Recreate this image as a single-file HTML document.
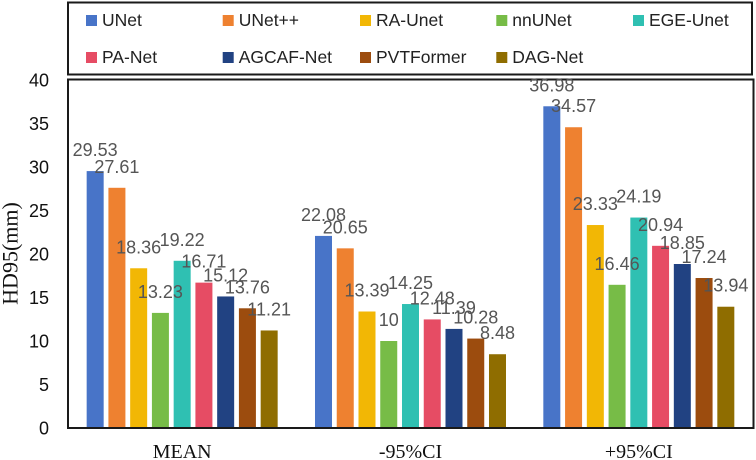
<!DOCTYPE html>
<html>
<head>
<meta charset="utf-8">
<style>
html,body{margin:0;padding:0;background:#fff;width:756px;height:460px;overflow:hidden}
svg{display:block}
</style>
</head>
<body>
<svg id="chart" width="756" height="460" viewBox="0 0 756 460" xmlns="http://www.w3.org/2000/svg">
<rect x="0" y="0" width="756" height="460" fill="#fff"/>
<rect x="68" y="2.5" width="684" height="72" fill="#fff" stroke="#1a1a1a" stroke-width="2"/>
<rect x="68" y="79.5" width="685.5" height="348.5" fill="#fff" stroke="#1a1a1a" stroke-width="2"/>
<g id="legend"></g>
<g id="y-axis"></g>
<g id="bars"></g>
<g id="value-labels"></g>
<g id="x-axis"></g>
<text transform="translate(17.5,253.5) rotate(-90)" text-anchor="middle" font-family="'Liberation Serif',serif" font-size="22" fill="#111">HD95(mm)</text>
</svg>
<script>
const categories = ['MEAN', '-95%CI', '+95%CI'];
const seriesNames = ['UNet', 'UNet++', 'RA-Unet', 'nnUNet', 'EGE-Unet', 'PA-Net', 'AGCAF-Net', 'PVTFormer', 'DAG-Net'];
const seriesColors = ['#4874C8', '#EE8130', '#F2B705', '#77BC47', '#2FC0B2', '#E64C64', '#214282', '#9C4C0E', '#8F6D00'];
const UNet = [29.53, 22.08, 36.98];
const UNetPP = [27.61, 20.65, 34.57];
const RAUnet = [18.36, 13.39, 23.33];
const nnUNet = [13.23, 10, 16.46];
const EGEUnet = [19.22, 14.25, 24.19];
const PANet = [16.71, 12.48, 20.94];
const AGCAFNet = [15.12, 11.39, 18.85];
const PVTFormer = [13.76, 10.28, 17.24];
const DAGNet = [11.21, 8.48, 13.94];
const seriesValues = [UNet, UNetPP, RAUnet, nnUNet, EGEUnet, PANet, AGCAFNet, PVTFormer, DAGNet];
const yTicks = [0, 5, 10, 15, 20, 25, 30, 35, 40];

const NS = 'http://www.w3.org/2000/svg';
function yScale(v) { return 428 - v * 8.7; }
function groupCenter(i) { return 68 + 228.33 * (i + 0.5); }
function barCenter(i, j) { return groupCenter(i) + (j - (seriesNames.length - 1) / 2) * 21.75; }
function make(tag, attrs, text) {
  const el = document.createElementNS(NS, tag);
  for (const k in attrs) el.setAttribute(k, attrs[k]);
  if (text !== undefined) el.textContent = text;
  return el;
}

const legendG = document.getElementById('legend');
const legendCols = [86, 222.7, 360, 496.3, 633];
const legendRows = [26, 63];
seriesNames.forEach(function (name, j) {
  const col = legendCols[j % 5];
  const base = legendRows[Math.floor(j / 5)];
  const sw = make('rect', { x: col, y: base - 11, width: 11, height: 11, fill: seriesColors[j] });
  
  
  legendG.appendChild(sw);
  const t = make('text', { x: col + 16, y: base, 'font-family': "'Liberation Sans',sans-serif", 'font-size': 17.5, fill: '#222' }, name);
  
  
  legendG.appendChild(t);
});

const yG = document.getElementById('y-axis');
yTicks.forEach(function (v) {
  const t = make('text', { x: 49, y: yScale(v) + 6.5, 'text-anchor': 'end', 'font-family': "'Liberation Sans',sans-serif", 'font-size': 18, fill: '#111' }, String(v));
  
  
  yG.appendChild(t);
});

const xG = document.getElementById('x-axis');
categories.forEach(function (c, i) {
  const t = make('text', { x: groupCenter(i), y: 458, 'text-anchor': 'middle', 'font-family': "'Liberation Serif',serif", 'font-size': 20, fill: '#111' }, c);
  
  
  xG.appendChild(t);
});

const barsG = document.getElementById('bars');
const labelsG = document.getElementById('value-labels');
seriesValues.forEach(function (vals, j) {
  vals.forEach(function (v, i) {
    const top = yScale(v);
    const r = make('rect', { x: barCenter(i, j) - 8.5, y: top, width: 17, height: yScale(0) - top - 1, fill: seriesColors[j] });
    
    
    barsG.appendChild(r);
    const t = make('text', { x: barCenter(i, j), y: top - 15, 'text-anchor': 'middle', 'font-family': "'Liberation Sans',sans-serif", 'font-size': 18, fill: '#555' }, String(v));
    
    
    labelsG.appendChild(t);
  });
});
</script>
</body>
</html>
